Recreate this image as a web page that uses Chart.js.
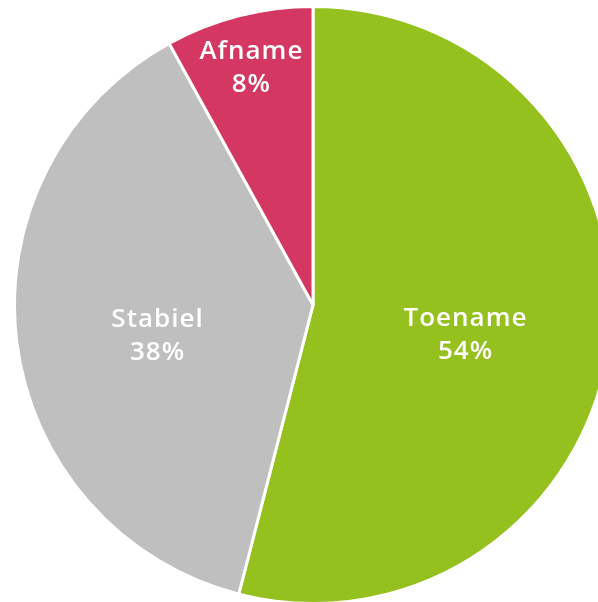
<!DOCTYPE html>
<html>
<head>
<meta charset="utf-8">
<script src="https://cdn.jsdelivr.net/npm/chart.js@4"></script>
<style>
  html, body { margin: 0; padding: 0; background: #fff; overflow: hidden; width: 598px; height: 602px; }
  #wrap { position: absolute; left: 13px; top: 5px; width: 600px; height: 600px; }
</style>
</head>
<body>
<div id="wrap"><canvas id="pieChart"></canvas></div>
<script>
const categories = ['Toename', 'Stabiel', 'Afname'];
const shares = [54, 38, 8];
const sliceColors = ['#95c11f', '#bfbfbf', '#d33762'];

// labels inside the slices, name + percentage
const sliceLabels = {
    id: 'sliceLabels',
    afterDatasetsDraw(chart, args, opts) {
        const ctx = chart.ctx;
        const meta = chart.getDatasetMeta(0);
        ctx.save();
        ctx.fillStyle = '#ffffff';
        ctx.font = '600 26px "Open Sans", sans-serif';
        ctx.letterSpacing = '1px';
        ctx.textAlign = 'center';
        ctx.textBaseline = 'middle';
        meta.data.forEach((arc, i) => {
            const mid = (arc.startAngle + arc.endAngle) / 2;
            const r = arc.outerRadius * opts.radius[i];
            const x = arc.x + Math.cos(mid) * r;
            const y = arc.y + Math.sin(mid) * r + opts.nudge[i];
            ctx.fillText(categories[i], x, y - 16);
            ctx.fillText(shares[i] + '%', x, y + 17);
        });
        ctx.restore();
    }
};

new Chart(document.getElementById('pieChart'), {
    type: 'pie',
    data: {
        labels: categories,
        datasets: [{
            data: shares,
            backgroundColor: sliceColors,
            borderColor: '#ffffff',
            borderWidth: 3
        }]
    },
    options: {
        responsive: true,
        maintainAspectRatio: false,
        animation: false,
        layout: { padding: 0 },
        plugins: {
            legend: { display: false },
            tooltip: { enabled: false },
            sliceLabels: { radius: [0.515, 0.525, 0.83], nudge: [10, 11, 3] }
        }
    },
    plugins: [sliceLabels]
});
</script>
</body>
</html>
